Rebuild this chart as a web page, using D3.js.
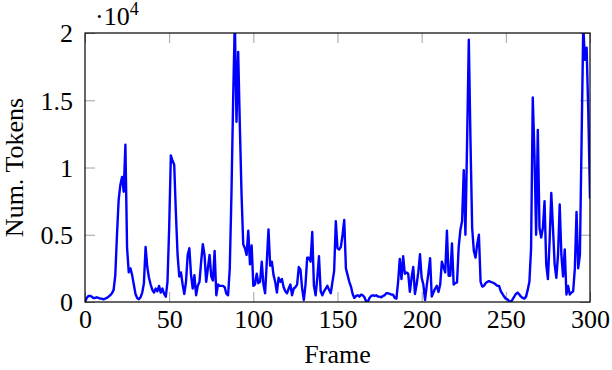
<!DOCTYPE html>
<html>
<head>
<meta charset="utf-8">
<script src="https://cdn.jsdelivr.net/npm/d3@7"></script>
<style>
  html, body { margin: 0; padding: 0; background: #fff; }
  svg text { font-family: "Liberation Serif", "DejaVu Serif", serif; fill: #000; }
</style>
</head>
<body>
<div id="chart"></div>
<script>
// Token count per frame (frame index = position in the array)
const tokens = [
  0, 300, 450, 450, 400, 300, 300, 350, 300, 250,
  250, 200, 250, 300, 400, 500, 650, 900, 2000, 5000,
  7600, 8700, 9300, 8200, 11700, 4000, 2200, 2500, 2000, 1300,
  600, 300, 200, 350, 700, 1400, 4100, 2600, 1800, 1300,
  900, 700, 1000, 800, 1200, 700, 1000, 600, 400, 1500,
  5500, 10900, 10500, 10200, 6600, 3500, 1900, 2200, 1300, 600,
  1500, 3500, 4000, 2000, 1000, 2000, 500, 1200, 1500, 3000,
  4300, 3500, 1500, 2500, 3500, 1900, 1600, 3800, 500, 1300,
  1200, 1200, 1200, 1100, 600, 500, 2500, 8000, 15000, 21000,
  13400, 18600, 13000, 8000, 4300, 4000, 3500, 5300, 2800, 4200,
  1200, 1300, 2100, 1400, 1500, 3000, 1300, 650, 3000, 5400,
  2700, 3000, 2000, 1500, 700, 1800, 1500, 1700, 1100, 800,
  650, 1000, 1300, 500, 1000, 1100, 1300, 2600, 2400, 1000,
  150, 1300, 3300, 3300, 3000, 5200, 1200, 500, 1800, 3400,
  800, 500, 800, 1000, 1200, 900, 650, 1500, 2300, 6000,
  4000, 3900, 4100, 5000, 6100, 2500, 2000, 1500, 1150, 600,
  300, 450, 500, 400, 550, 500, 350, 50, 0, 300,
  450, 500, 450, 500, 400, 400, 350, 450, 500, 650,
  650, 600, 550, 550, 300, 250, 1500, 3200, 1700, 3400,
  2100, 2200, 2100, 750, 1800, 2600, 600, 1300, 2200, 3550,
  1800, 1300, 150, 1200, 2150, 3250, 400, 700, 1000, 1200,
  750, 1300, 3000, 2600, 2200, 5300, 1950, 1950, 4350, 1300,
  1400, 1450, 4100, 5350, 6000, 9800, 5000, 12000, 19500, 12000,
  5500, 3800, 3300, 4300, 5000, 1500, 1150, 1200, 1400, 1500,
  1550, 1500, 1450, 1400, 1300, 1200, 1200, 800, 600, 400,
  250, 200, 50, 0, 200, 400, 600, 700, 550, 400,
  300, 250, 400, 900, 1500, 4000, 15200, 11000, 5000, 12800,
  5500, 4800, 5500, 7500, 2800, 1700, 4500, 8100, 5500, 2800,
  1800, 3500, 7250, 3500, 1900, 3900, 550, 1200, 550, 700,
  800, 2500, 6700, 2500, 3500, 12000, 20500, 18000, 18900, 14000,
  7700
];

const xTicks = [0, 50, 100, 150, 200, 250, 300];
const yTicks = [0, 5000, 10000, 15000, 20000];
const yTickLabels = ["0", "0.5", "1", "1.5", "2"];

const width = 612, height = 370;
const margin = { top: 33, right: 22, bottom: 68, left: 85 };
const innerW = width - margin.left - margin.right;
const innerH = height - margin.top - margin.bottom;
const fontSize = 26;

const svg = d3.select("#chart").append("svg")
  .attr("width", width)
  .attr("height", height);

const g = svg.append("g").attr("transform", `translate(${margin.left},${margin.top})`);

const x = d3.scaleLinear().domain([0, 300]).range([0, innerW]);
const y = d3.scaleLinear().domain([0, 20000]).range([innerH, 0]);

// Clip so peaks above 2e4 are cut at the frame
g.append("clipPath").attr("id", "plot-clip")
  .append("rect").attr("width", innerW).attr("height", innerH);

const tickLen = 10;
const tickColor = "#a0a0a0";

// Inward ticks on all four sides (pgfplots style)
function styleTicks(sel) {
  sel.select(".domain").remove();
  sel.attr("font-family", null).attr("font-size", null);
  sel.selectAll(".tick line").attr("stroke", tickColor).attr("stroke-width", 1);
}

g.append("g").attr("transform", `translate(0,${innerH})`)
  .call(d3.axisBottom(x).tickValues(xTicks).tickSizeInner(-tickLen).tickPadding(8).tickFormat(d3.format("d")))
  .call(styleTicks)
  .selectAll("text").attr("font-size", fontSize);

g.append("g")
  .call(d3.axisTop(x).tickValues(xTicks).tickSizeInner(-tickLen).tickFormat(""))
  .call(styleTicks);

g.append("g")
  .call(d3.axisLeft(y).tickValues(yTicks).tickSizeInner(-tickLen).tickPadding(12)
    .tickFormat((d, i) => yTickLabels[i]))
  .call(styleTicks)
  .selectAll("text").attr("font-size", fontSize).attr("dy", "0.34em");

g.append("g").attr("transform", `translate(${innerW},0)`)
  .call(d3.axisRight(y).tickValues(yTicks).tickSizeInner(-tickLen).tickFormat(""))
  .call(styleTicks);

// Data line
const line = d3.line()
  .x((d, i) => x(i))
  .y(d => y(d));

g.append("path")
  .datum(tokens)
  .attr("clip-path", "url(#plot-clip)")
  .attr("fill", "none")
  .attr("stroke", "#0000ff")
  .attr("stroke-width", 2.4)
  .attr("stroke-linejoin", "round")
  .attr("d", line);

// Axis frame
g.append("rect")
  .attr("width", innerW)
  .attr("height", innerH)
  .attr("fill", "none")
  .attr("stroke", "#000")
  .attr("stroke-width", 1.2);

// Scale multiplier label
const mult = svg.append("text")
  .attr("x", 95)
  .attr("y", 25)
  .attr("font-size", fontSize);
mult.append("tspan").text("·10");
mult.append("tspan").attr("font-size", 18).attr("dy", -10).text("4");

// Axis titles
svg.append("text")
  .attr("x", margin.left + innerW / 2)
  .attr("y", 363)
  .attr("text-anchor", "middle")
  .attr("font-size", fontSize)
  .text("Frame");

svg.append("text")
  .attr("transform", `translate(23,${margin.top + innerH / 2}) rotate(-90)`)
  .attr("text-anchor", "middle")
  .attr("font-size", fontSize)
  .text("Num. Tokens");
</script>
</body>
</html>
